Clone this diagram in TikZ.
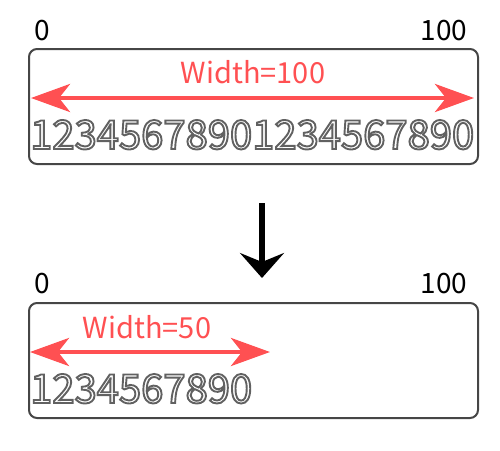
\documentclass[tikz,border=0pt]{standalone}
\usepackage{fontspec}
\setmainfont{Noto Sans CJK SC}
\usetikzlibrary{arrows.meta}
\definecolor{redline}{RGB}{255,80,82}
\definecolor{boxgray}{RGB}{70,70,70}
\newcommand{\outlinedigits}[1]{\special{pdf:literal direct 1 Tr 1.9 w 0.38 0.38 0.38 RG}#1\special{pdf:literal direct 0 Tr}}
\tikzset{
  panel/.style={draw=boxgray, line width=2pt, rounded corners=8pt},
  scalelbl/.style={inner sep=0pt, font=\fontsize{28}{28}\selectfont, text=black},
  widthlbl/.style={inner sep=0pt, font=\fontsize{29}{29}\selectfont, text=redline},
  dimarrow/.style={draw=redline, line width=4.5pt, {Stealth[length=39pt,width=28pt,inset=11pt]}-{Stealth[length=39pt,width=28pt,inset=11pt]}},
  digits/.style={inner sep=0pt, anchor=base west, font=\fontsize{40}{40}\selectfont},
  flow/.style={draw=black, line width=6.5pt, -{Stealth[length=25pt,width=44pt,inset=9pt]}}
}
\begin{document}
\begin{tikzpicture}[x=1pt,y=-1pt]
\useasboundingbox (0,0) rectangle (500,450);
% top panel
\node[panel, minimum width=449pt, minimum height=115pt, anchor=north west] (box1) at (28,48) {};
\node[scalelbl] (zero1) at (42,31) {0};
\node[scalelbl] (hund1) at (444,31) {100};
\node[widthlbl] (w1) at (253,72) {Width=100};
\coordinate (a1l) at (31,98);
\coordinate (a1r) at (474,98);
\draw[dimarrow] (a1l) -- (a1r);
\node[digits] (d1) at (30,149) {\outlinedigits{12345678901234567890}};
% arrow between
\coordinate (ftop) at (262,203);
\coordinate (fbot) at (262,278);
\draw[flow] (ftop) -- (fbot);
% bottom panel
\node[panel, minimum width=449pt, minimum height=115pt, anchor=north west] (box2) at (28,302) {};
\node[scalelbl] (zero2) at (42,284) {0};
\node[scalelbl] (hund2) at (444,284) {100};
\node[widthlbl] (w2) at (147,327) {Width=50};
\coordinate (a2l) at (30,352);
\coordinate (a2r) at (270,352);
\draw[dimarrow] (a2l) -- (a2r);
\node[digits] (d2) at (30,403) {\outlinedigits{1234567890}};
\end{tikzpicture}
\end{document}
